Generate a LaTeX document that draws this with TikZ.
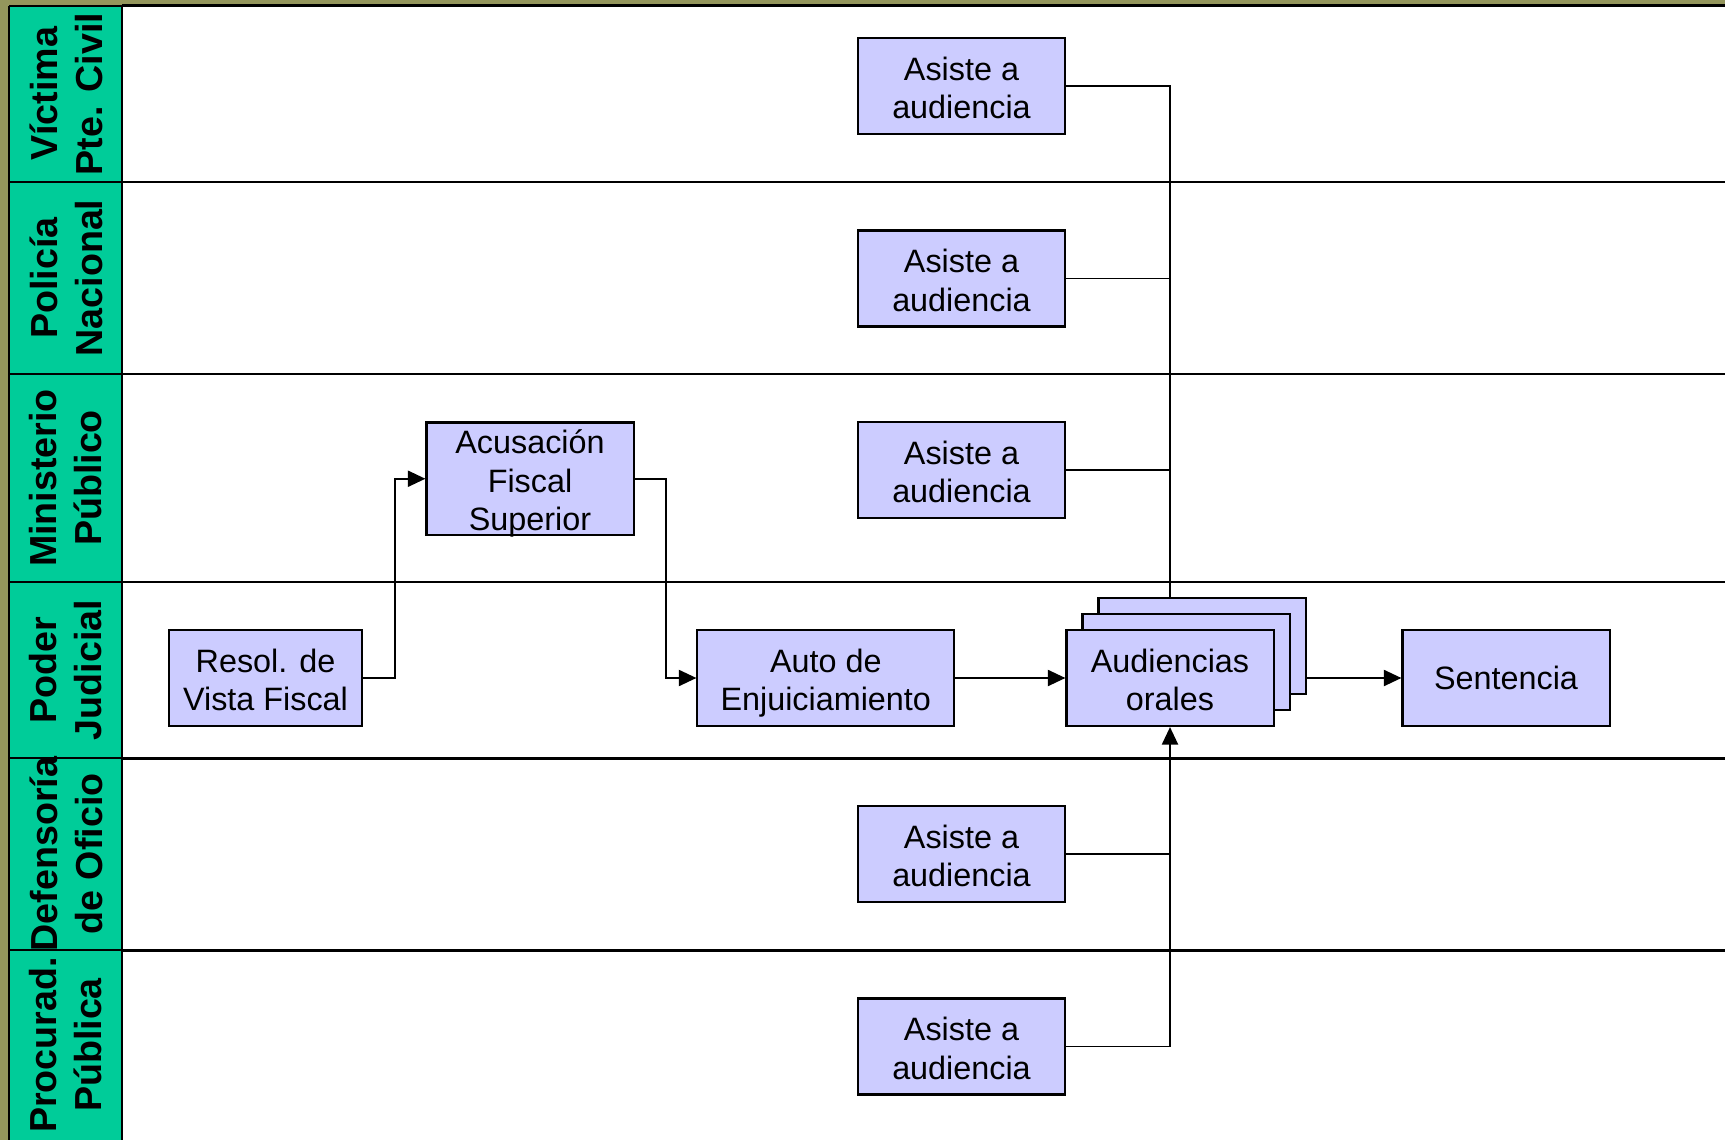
\documentclass[tikz,border=0pt]{standalone}
\usepackage{fontspec}
\setmainfont{Liberation Sans}
\usetikzlibrary{arrows.meta,calc}
\definecolor{olivebg}{RGB}{148,150,92}
\definecolor{lanegreen}{RGB}{0,204,153}
\definecolor{boxfill}{RGB}{204,204,255}
\tikzset{
  procbox/.style={draw=black, line width=0.6pt, fill=boxfill, align=center,
    inner sep=0pt, minimum width=2.07cm, minimum height=0.96cm,
    text height=19.1pt, text depth=0.35pt,
    font=\fontsize{9.2}{10.95}\selectfont},
  oneline/.style={text height=7.15pt},
  threeline/.style={text height=30.05pt},
  lanelabel/.style={rotate=90, align=center, inner sep=0pt,
    font=\fontsize{10.7}{12.8}\selectfont\bfseries},
  lanesep/.style={line width=0.85pt, black},
  conn/.style={line width=0.5pt, black},
  arr/.style={conn, -{Triangle[length=5pt,width=4.6pt]}}
}
\begin{document}
\begin{tikzpicture}[x=0.01cm, y=-0.01cm]
% background and bounding box
\fill[olivebg] (0,0) rectangle (1725,1140);
\useasboundingbox (0,0) rectangle (1725,1140);
\fill[white] (122,6) rectangle (1725,1140);
\fill[lanegreen] (9,6) rectangle (122,1140);
% lane separators
\foreach \yy in {6,182,374,582,758,950}{
  \draw[lanesep] (122,\yy) -- (1725,\yy);
  \draw[line width=0.6pt] (9,\yy) -- (122,\yy);
}
\draw[line width=0.6pt] (9,6) -- (9,1140);
\draw[line width=0.6pt] (122,6) -- (122,1140);
% lane labels
\node[lanelabel] (lv) at (66,94)  {Víctima\\Pte. Civil};
\node[lanelabel] (lp) at (66,278) {Policía\\Nacional};
\node[lanelabel] (lm) at (66,478) {Ministerio\\Público};
\node[lanelabel] (lj) at (66,670) {Poder\\Judicial};
\node[lanelabel] (ld) at (66,854) {Defensoría\\de Oficio};
\node[lanelabel] (lq) at (66,1045) {Procurad.\\Pública};
% attendance boxes
\node[procbox] (vict) at (961.5,86)   {Asiste a\\audiencia};
\node[procbox] (pol)  at (961.5,278.5) {Asiste a\\audiencia};
\node[procbox] (mini) at (961.5,470)  {Asiste a\\audiencia};
\node[procbox] (defe) at (961.5,854)  {Asiste a\\audiencia};
\node[procbox] (proc) at (961.5,1046.5) {Asiste a\\audiencia};
% main flow
\node[procbox, minimum width=1.93cm] (resol) at (265.5,678) {Resol. de\\Vista Fiscal};
\node[procbox, threeline, minimum height=1.125cm] (acus) at (530,478.75) {Acusación\\Fiscal\\Superior};
\node[procbox, minimum width=2.565cm] (auto) at (825.75,678) {Auto de\\Enjuiciamiento};
\node[procbox, oneline] (audb) at (1202,646) {};
\node[procbox, oneline] (audm) at (1186,662) {};
\node[procbox] (audf) at (1170,678) {Audiencias\\orales};
\node[procbox, oneline] (sent) at (1506,678) {Sentencia};
% connectors
\coordinate (jtop) at (audf.center |- audb.north);
\draw[arr] (resol.east) -- ++(32,0) |- (acus.west);
\draw[arr] (acus.east) -- ++(31.6,0) |- (auto.west);
\draw[arr] (auto.east) -- (audf.west);
\draw[arr] (audb.east |- sent.west) -- (sent.west);
\draw[conn] (vict.east) -| (jtop);
\draw[conn] (pol.east) -- (pol.east -| jtop);
\draw[conn] (mini.east) -- (mini.east -| jtop);
\draw[arr] (proc.east) -| (audf.south);
\draw[conn] (defe.east) -- (defe.east -| audf.south);
\end{tikzpicture}
\end{document}
